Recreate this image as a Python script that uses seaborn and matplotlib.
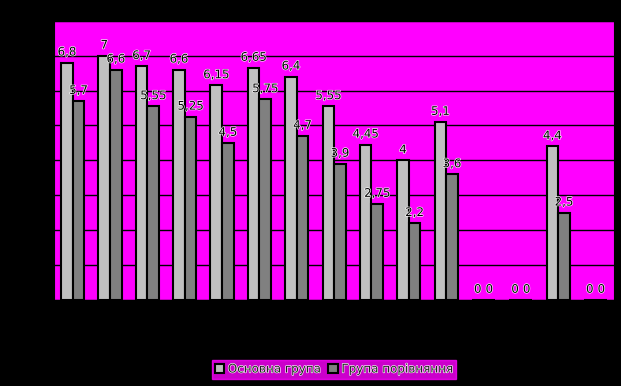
import matplotlib
matplotlib.use("Agg")
import matplotlib.pyplot as plt
import matplotlib.patheffects as pe
import seaborn as sns
import pandas as pd

# categories (no labels shown on the axis)
categories = [str(i) for i in range(1, 16)]
main_group = [6.8, 7, 6.7, 6.6, 6.15, 6.65, 6.4, 5.55, 4.45, 4, 5.1, 0, 0, 4.4, 0]
compare_group = [5.7, 6.6, 5.55, 5.25, 4.5, 5.75, 4.7, 3.9, 2.75, 2.2, 3.6, 0, 0, 2.5, 0]
series_names = ["Основна група", "Група порівняння"]

df = pd.DataFrame({
    "cat": categories * 2,
    "value": main_group + compare_group,
    "group": [series_names[0]] * len(categories) + [series_names[1]] * len(categories),
})

sns.set_style("white")
plt.rcParams["font.family"] = ["DejaVu Sans"]

fig = plt.figure(figsize=(6.21, 3.86), dpi=100, facecolor="black")
ax = fig.add_axes([0.087, 0.223, 0.902, 0.723])
ax.set_facecolor("#FF00FF")

sns.barplot(data=df, x="cat", y="value", hue="group",
            palette=["#C0C0C0", "#808080"], width=0.62,
            edgecolor="black", linewidth=1.5, ax=ax, legend=True)

ax.set_ylim(0, 8)
ax.set_yticks(range(0, 9))
ax.yaxis.grid(True, color="black", linewidth=1)
ax.set_axisbelow(True)
ax.set_xticks([])
ax.set_yticklabels([])
ax.tick_params(left=False)
ax.set_xlabel("")
ax.set_ylabel("")
for s in ax.spines.values():
    s.set_color("black")

def fmt(v):
    return ("%g" % v).replace(".", ",")

for cont in ax.containers:
    labels = [fmt(b.get_height()) for b in cont]
    texts = ax.bar_label(cont, labels=labels, padding=3, fontsize=8.5,
                         color="black")
    for t in texts:
        t.set_path_effects([pe.withStroke(linewidth=0.9, foreground="white")])

leg = ax.legend(loc="center", bbox_to_anchor=(0.538, 0.044),
                bbox_transform=fig.transFigure, ncol=2, frameon=True,
                fontsize=8.6, handlelength=0.8, handleheight=0.8,
                handletextpad=0.3, columnspacing=0.6, borderpad=0.25,
                borderaxespad=0, fancybox=False)
leg.get_frame().set_facecolor("#FF00FF")
leg.get_frame().set_edgecolor("#FF00FF")
for t in leg.get_texts():
    t.set_color("#202020")
    t.set_path_effects([pe.withStroke(linewidth=0.9, foreground="white")])

fig.savefig("out.png", dpi=100, facecolor="black")
